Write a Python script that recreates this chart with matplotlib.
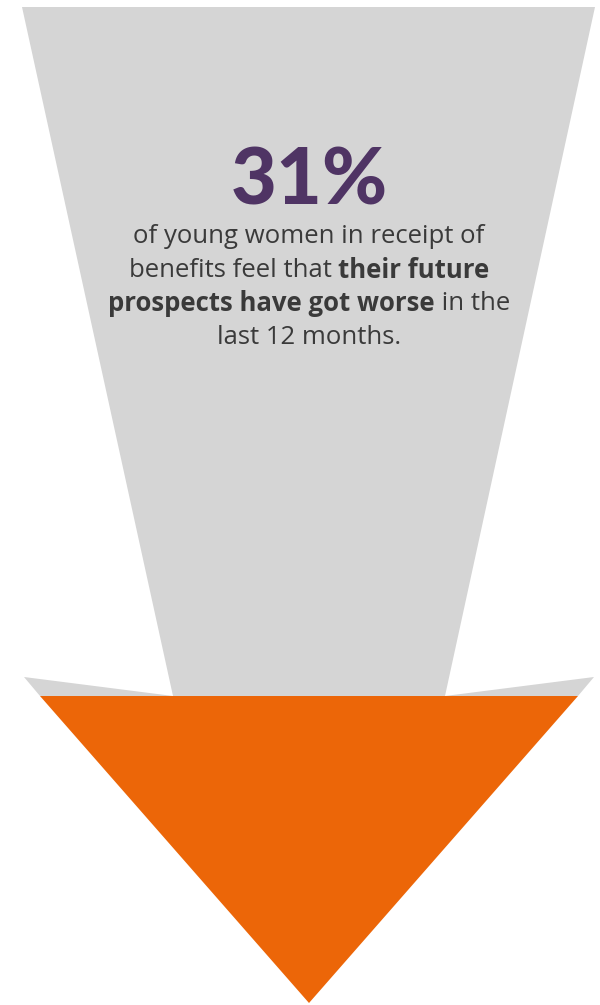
import matplotlib
matplotlib.use("Agg")
import matplotlib.pyplot as plt
from matplotlib.patches import Polygon

# Infographic content
headline_value = "31%"
body_lines = [
    [("of young women in receipt of", False)],
    [("benefits feel that ", False), ("their future", True)],
    [("prospects have got worse", True), (" in the", False)],
    [("last 12 months.", False)],
]

GREY = "#d5d5d5"
ORANGE = "#ec6608"
PURPLE = "#4f3464"
TEXT = "#3a3a3a"
FONT = "Open Sans"

W, H = 600, 1005
fig = plt.figure(figsize=(W / 100, H / 100), dpi=100)
ax = fig.add_axes([0, 0, 1, 1])
ax.set_xlim(0, W)
ax.set_ylim(H, 0)
ax.axis("off")

# grey shaft with the small back "wings" of the arrow head
shaft = [(22, 7), (595, 7), (445, 696), (594, 677), (578, 696),
         (40, 696), (24, 677), (173, 696)]
ax.add_patch(Polygon(shaft, closed=True, color=GREY, lw=0))

# orange arrow head
head = [(40, 696), (578, 696), (309, 1003)]
ax.add_patch(Polygon(head, closed=True, color=ORANGE, lw=0))

ax.text(309, 182, headline_value, ha="center", va="center", fontsize=57,
        fontweight="black", color=PURPLE, family="Lato")

# body text, centred line by line with mixed weights
renderer = fig.canvas.get_renderer()
line_y = [236, 270, 303, 337]
for segs, y in zip(body_lines, line_y):
    texts = []
    for s, bold in segs:
        t = ax.text(0, y, s, ha="left", va="center", fontsize=18.5,
                    fontweight="bold" if bold else "normal", color=TEXT,
                    family=FONT)
        texts.append(t)
    widths = [t.get_window_extent(renderer).width for t in texts]
    x = 309 - sum(widths) / 2
    for t, w in zip(texts, widths):
        t.set_x(x)
        x += w

fig.savefig("out.png", dpi=100)
